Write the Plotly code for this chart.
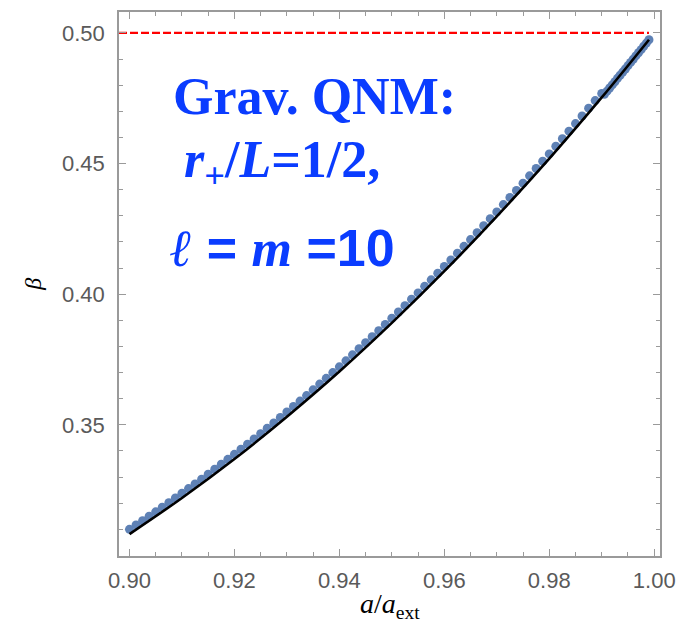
import plotly.graph_objects as go

# Blue dots (numerical data)
dots_a = [0.90000, 0.90125, 0.90250, 0.90375, 0.90500, 0.90625, 0.90750, 0.90875,
          0.91000, 0.91125, 0.91250, 0.91375, 0.91500, 0.91625, 0.91750, 0.91875,
          0.92000, 0.92125, 0.92250, 0.92375, 0.92500, 0.92625, 0.92750, 0.92875,
          0.93000, 0.93125, 0.93250, 0.93375, 0.93500, 0.93625, 0.93750, 0.93875,
          0.94000, 0.94125, 0.94250, 0.94375, 0.94500, 0.94625, 0.94750, 0.94875,
          0.95000, 0.95125, 0.95250, 0.95375, 0.95500, 0.95625, 0.95750, 0.95875,
          0.96000, 0.96125, 0.96250, 0.96375, 0.96500, 0.96625, 0.96750, 0.96875,
          0.97000, 0.97125, 0.97250, 0.97375, 0.97500, 0.97625, 0.97750, 0.97875,
          0.98000, 0.98125, 0.98250, 0.98375, 0.98500, 0.98625, 0.98750, 0.98875,
          0.99000,
          0.9905, 0.9910, 0.9915, 0.9920, 0.9925, 0.9930, 0.9935, 0.9940, 0.9945,
          0.9950, 0.9955, 0.9960, 0.9965, 0.9970, 0.9975, 0.9980, 0.9985, 0.9990]
dots_beta = [0.3100, 0.3117, 0.3133, 0.3150, 0.3167, 0.3185, 0.3202, 0.3220,
             0.3238, 0.3256, 0.3274, 0.3292, 0.3311, 0.3330, 0.3349, 0.3368,
             0.3387, 0.3407, 0.3426, 0.3446, 0.3466, 0.3487, 0.3507, 0.3528,
             0.3549, 0.3570, 0.3591, 0.3612, 0.3634, 0.3656, 0.3678, 0.3700,
             0.3722, 0.3745, 0.3768, 0.3791, 0.3814, 0.3837, 0.3860, 0.3884,
             0.3908, 0.3932, 0.3956, 0.3981, 0.4005, 0.4030, 0.4055, 0.4080,
             0.4106, 0.4131, 0.4157, 0.4183, 0.4209, 0.4235, 0.4262, 0.4289,
             0.4315, 0.4343, 0.4370, 0.4397, 0.4425, 0.4453, 0.4481, 0.4509,
             0.4537, 0.4566, 0.4595, 0.4624, 0.4653, 0.4682, 0.4712, 0.4741,
             0.4768,
             0.4765, 0.4777, 0.4789, 0.4801, 0.4813, 0.4826, 0.4838, 0.4850, 0.4862,
             0.4875, 0.4887, 0.4899, 0.4912, 0.4924, 0.4936, 0.4949, 0.4961, 0.4974]

# Black curve
line_a = [0.900, 0.910, 0.920, 0.930, 0.940, 0.950, 0.960, 0.970, 0.980, 0.990, 0.999]
line_beta = [0.3082, 0.3220, 0.3369, 0.3531, 0.3704, 0.3890, 0.4088, 0.4298, 0.4519, 0.4753, 0.4974]

# Red dashed bound
bound_a = [0.898, 0.999]
bound_beta = [0.50, 0.50]

x_ticks = [0.90, 0.92, 0.94, 0.96, 0.98, 1.00]
x_ticktext = ["0.90", "0.92", "0.94", "0.96", "0.98", "1.00"]
y_ticks = [0.35, 0.40, 0.45, 0.50]
y_ticktext = ["0.35", "0.40", "0.45", "0.50"]

fig = go.Figure()
fig.add_trace(go.Scatter(x=bound_a, y=bound_beta, mode="lines",
                         line=dict(color="#ff0000", width=2.2, dash="8px,3px"),
                         hoverinfo="skip"))
fig.add_trace(go.Scatter(x=dots_a, y=dots_beta, mode="markers",
                         marker=dict(color="#5e81b5", size=9, line=dict(width=0))))
fig.add_trace(go.Scatter(x=line_a, y=line_beta, mode="lines",
                         line=dict(color="black", width=2.6, shape="spline")))

axis_common = dict(showline=True, linecolor="#9a9a9a", linewidth=1.5, mirror="ticks",
                   ticks="inside", ticklen=7, tickwidth=1, tickcolor="#9a9a9a",
                   showgrid=False, zeroline=False,
                   tickfont=dict(family="Liberation Sans, Arial", size=22, color="#5a5a5a"))

fig.update_layout(
    width=686, height=622,
    margin=dict(l=119, r=22, t=10, b=66),
    paper_bgcolor="white", plot_bgcolor="white",
    showlegend=False,
    xaxis=dict(range=[0.898, 1.0011], tickmode="array", tickvals=x_ticks, ticktext=x_ticktext,
               minor=dict(ticks="inside", dtick=0.005, tick0=0.9, ticklen=4, tickcolor="#9a9a9a"),
               ticklabelstandoff=4, **axis_common),
    yaxis=dict(range=[0.2998, 0.508], tickmode="array", tickvals=y_ticks, ticktext=y_ticktext,
               minor=dict(ticks="inside", dtick=0.01, tick0=0.3, ticklen=4, tickcolor="#9a9a9a"),
               ticklabelstandoff=8, **axis_common),
)

blue = "#0a3cff"
fig.add_annotation(xref="x", yref="y", x=0.9080, y=0.4756, xanchor="left", yanchor="middle",
                   text="<b>Grav. QNM:</b>", showarrow=False,
                   font=dict(family="Liberation Serif, Times New Roman", size=52, color=blue))
fig.add_annotation(xref="x", yref="y", x=0.9101, y=0.4500, xanchor="left", yanchor="middle",
                   text="<b><i>r</i><sub>+</sub>/<i>L</i>=1/2,</b>", showarrow=False,
                   font=dict(family="Liberation Serif, Times New Roman", size=52, color=blue))
fig.add_annotation(xref="x", yref="y", x=0.9073, y=0.4175, xanchor="left", yanchor="middle",
                   text=("<b><i>ℓ</i></b>"
                         "<span style='font-family:Liberation Sans, Arial'><b> = </b></span>"
                         "<b><i>m</i></b>"
                         "<span style='font-family:Liberation Sans, Arial'><b> =10</b></span>"),
                   showarrow=False,
                   font=dict(family="Liberation Serif, Times New Roman", size=52, color=blue))

# Axis titles
fig.add_annotation(xref="paper", yref="paper", x=-0.158, y=0.4995, xanchor="center", yanchor="middle",
                   text="<i>β</i>", textangle=-90, showarrow=False,
                   font=dict(family="Liberation Serif, Times New Roman", size=24, color="black"))
fig.add_annotation(xref="paper", yref="paper", x=0.5, y=-0.0907, xanchor="center", yanchor="middle",
                   text="<i>a</i>/<i>a</i><sub>ext</sub>", showarrow=False,
                   font=dict(family="Liberation Serif, Times New Roman", size=28, color="black"))

fig.write_html("out.html", config={"displayModeBar": False},
               post_script="document.body.style.margin='0px';document.body.style.overflow='hidden';")
